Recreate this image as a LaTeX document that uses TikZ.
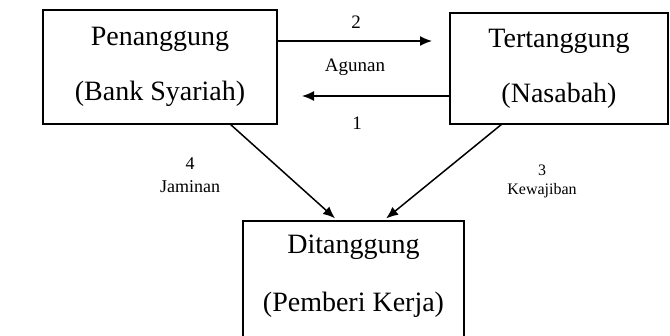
\documentclass[tikz,border=0pt]{standalone}
\usepackage{fontspec}
\setmainfont{Liberation Serif}
\usepackage{tikz}
\usetikzlibrary{arrows.meta,calc,positioning}
\tikzstyle{edge}  =[>={Latex[length=6pt,width=5pt]}, line width=0.75pt]
\tikzstyle{party} =[rectangle, draw, line width=1pt, align=center,
                    inner sep=0pt, outer sep=0pt,
                    font=\fontsize{14}{27.5}\selectfont]
\tikzstyle{label} =[inner sep=1pt, fill=none, draw=none]

\begin{document}
\begin{tikzpicture}[x=0.5pt, y=-0.5pt]
            \useasboundingbox (0,0) rectangle (670,336);
            \node (penanggung) [party, minimum width=117pt, minimum height=57pt]
                at (160,67) {Penanggung\\(Bank Syariah)};
            \node (tertanggung) [party, minimum width=109pt, minimum height=55.5pt]
                at (559,68.5) {Tertanggung\\(Nasabah)};
            \node (ditanggung) [party, minimum width=110.5pt, minimum height=62pt]
                at (353.5,283) {};
            \node (ditext) [label, align=center, font=\fontsize{14}{29}\selectfont]
                at (353.5,276) {Ditanggung\\(Pemberi Kerja)};
            % nomor dan keterangan arus
            \node (n2) [label, font=\fontsize{9.5}{11}\selectfont] at (356,22) {2};
            \node (agunan) [label, font=\fontsize{9.5}{11}\selectfont] at (355,67) {Agunan};
            \node (n1) [label, font=\fontsize{9.5}{11}\selectfont] at (357,123) {1};
            \node (n4) [label, font=\fontsize{9}{11}\selectfont] at (190,164) {4};
            \node (jaminan) [label, font=\fontsize{9}{11}\selectfont] at (190,187) {Jaminan};
            \node (n3) [label, font=\fontsize{8}{10}\selectfont] at (542,170) {3};
            \node (kewajiban) [label, font=\fontsize{8}{10}\selectfont] at (542,191) {Kewajiban};
            \draw[edge, ->, shorten >=9pt] ([yshift=13pt]penanggung.east)
                -- ([yshift=13pt]penanggung.east -| tertanggung.west);
            \draw[edge, ->, shorten >=12.5pt] ([yshift=-14.5pt]penanggung.east -| tertanggung.west)
                -- ([yshift=-14.5pt]penanggung.east);
            \draw[edge, ->, shorten >=2pt] ([xshift=35pt]penanggung.south)
                -- ([xshift=-7.75pt]ditanggung.north);
            \draw[edge, ->, shorten >=2pt] ([xshift=-28.5pt]tertanggung.south)
                -- ([xshift=14.75pt]ditanggung.north);
        \end{tikzpicture}
\end{document}
